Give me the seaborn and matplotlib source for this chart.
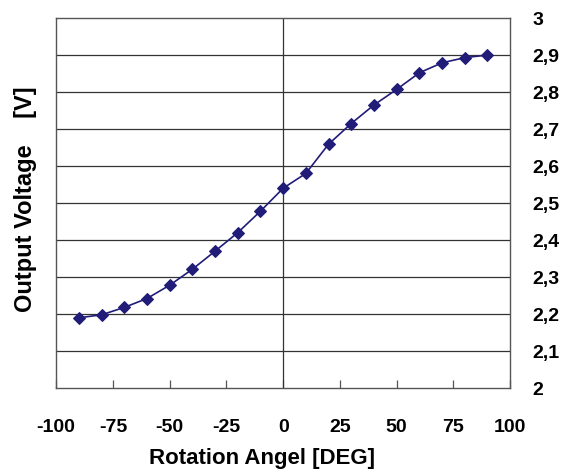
import pandas as pd
import seaborn as sns
import matplotlib.pyplot as plt
from matplotlib.ticker import FuncFormatter

# rotation angle vs output voltage
angle = [-90, -80, -70, -60, -50, -40, -30, -20, -10, 0,
         10, 20, 30, 40, 50, 60, 70, 80, 90]
voltage = [2.190, 2.198, 2.218, 2.242, 2.278, 2.321, 2.370, 2.420, 2.478, 2.540,
           2.580, 2.659, 2.715, 2.765, 2.807, 2.852, 2.879, 2.893, 2.900]
x_ticks = [-100, -75, -50, -25, 0, 25, 50, 75, 100]
y_ticks = [2.0, 2.1, 2.2, 2.3, 2.4, 2.5, 2.6, 2.7, 2.8, 2.9, 3.0]

df = pd.DataFrame({"angle": angle, "voltage": voltage})

sns.set_style("white")
plt.rcParams["font.family"] = ["Liberation Sans", "DejaVu Sans"]
plt.rcParams["axes.unicode_minus"] = False
plt.rcParams["text.color"] = "black"
plt.rcParams["axes.labelcolor"] = "black"
plt.rcParams["xtick.color"] = "black"
plt.rcParams["ytick.color"] = "black"

fig = plt.figure(figsize=(5.79, 4.75), dpi=100)
ax = fig.add_axes([0.097, 0.183, 0.784, 0.779])

sns.lineplot(data=df, x="angle", y="voltage", ax=ax, color="#201c78",
             marker="D", markersize=6, markeredgecolor="#201c78",
             linewidth=1.2, zorder=3)

ax.set_xlim(-100, 100)
ax.set_ylim(2, 3)
ax.set_xticks(x_ticks)
ax.set_yticks(y_ticks)

# horizontal grid + single vertical line at 0
for y in y_ticks[1:-1]:
    ax.axhline(y, color="#333333", linewidth=0.9, zorder=1)
ax.axvline(0, color="#333333", linewidth=0.9, zorder=1)

for s in ax.spines.values():
    s.set_color("#555555")
    s.set_linewidth(1.0)

ax.yaxis.tick_right()
ax.yaxis.set_label_position("left")
ax.yaxis.set_major_formatter(FuncFormatter(lambda v, p: f"{v:g}".replace(".", ",")))
ax.tick_params(axis="y", length=0, pad=16, labelsize=14)
ax.tick_params(axis="x", bottom=True, direction="in", length=6, width=0.9,
               color="#555555", labelcolor="black", pad=22, labelsize=14)
for lab in ax.get_xticklabels() + ax.get_yticklabels():
    lab.set_fontweight("bold")

ax.set_xlabel("Rotation Angel [DEG]", fontsize=16, fontweight="bold")
ax.set_ylabel("Output Voltage    [V]", fontsize=17, fontweight="bold")
ax.xaxis.set_label_coords(0.454, -0.162)
ax.yaxis.set_label_coords(-0.042, 0.51)

plt.savefig("out.png", dpi=100)
